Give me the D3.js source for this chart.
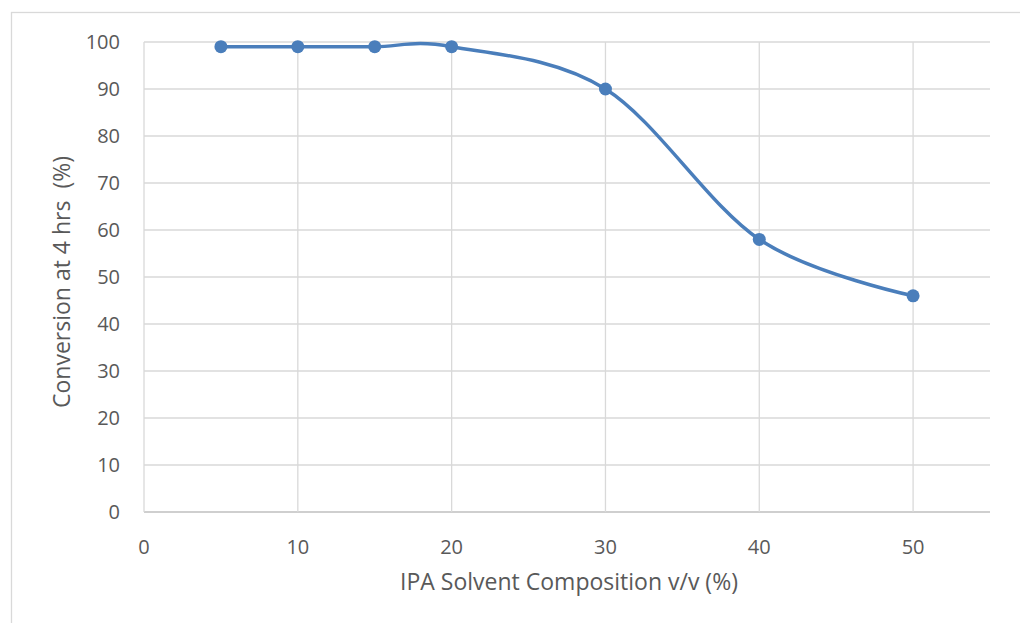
<!DOCTYPE html>
<html>
<head>
<meta charset="utf-8">
<script src="https://cdn.jsdelivr.net/npm/d3@7"></script>
<style>
  body { margin: 0; background: #fff; }
  svg text { font-family: 'Open Sans', Lato, sans-serif; fill: #595959; }
</style>
</head>
<body>
<div id="chart"></div>
<script>
const ipaPct = [5, 10, 15, 20, 30, 40, 50]
const conversion = [99, 99, 99, 99, 90, 58, 46]
const xTicks = [0, 10, 20, 30, 40, 50]
const yTicks = [0, 10, 20, 30, 40, 50, 60, 70, 80, 90, 100]

const W = 1020
const H = 623
const plot = { left: 144, right: 990, top: 42, bottom: 512 }

const svg = d3.select('#chart').append('svg')
  .attr('width', W)
  .attr('height', H)

// chart frame
svg.append('rect')
  .attr('x', 11.5).attr('y', 12.5)
  .attr('width', W + 10).attr('height', H + 10)
  .attr('fill', 'none')
  .attr('stroke', '#d9d9d9')
  .attr('stroke-width', 1.3)

const x = d3.scaleLinear().domain([0, 55]).range([plot.left, plot.right])
const y = d3.scaleLinear().domain([0, 100]).range([plot.bottom, plot.top])

const grid = svg.append('g').attr('class', 'grid')
grid.selectAll('.hgrid').data(yTicks).enter().append('line')
  .attr('x1', plot.left).attr('x2', plot.right)
  .attr('y1', d => y(d)).attr('y2', d => y(d))
  .attr('stroke', d => d === 0 ? '#bfbfbf' : '#d9d9d9')
  .attr('stroke-width', 1.3)
grid.selectAll('.vgrid').data(xTicks).enter().append('line')
  .attr('x1', d => x(d)).attr('x2', d => x(d))
  .attr('y1', plot.top).attr('y2', plot.bottom)
  .attr('stroke', '#d9d9d9')
  .attr('stroke-width', 1.3)

// tick labels
svg.append('g').selectAll('text').data(yTicks).enter().append('text')
  .attr('x', 120)
  .attr('y', d => y(d))
  .attr('dy', '0.35em')
  .attr('text-anchor', 'end')
  .style('font-size', '20px')
  .text(d => d)

svg.append('g').selectAll('text').data(xTicks).enter().append('text')
  .attr('x', d => x(d))
  .attr('y', 547)
  .attr('dy', '0.35em')
  .attr('text-anchor', 'middle')
  .style('font-size', '20px')
  .text(d => d)

// axis titles
svg.append('text')
  .attr('x', 569).attr('y', 582)
  .attr('dy', '0.35em')
  .attr('text-anchor', 'middle')
  .style('font-size', '23px')
  .text('IPA Solvent Composition v/v (%)')

svg.append('text')
  .attr('transform', 'translate(62, 282) rotate(-90)')
  .attr('dy', '0.35em')
  .attr('text-anchor', 'middle')
  .style('font-size', '23px')
  .style('white-space', 'pre')
  .text('Conversion at 4 hrs  (%)')

// series
const pts = ipaPct.map((d, i) => [d, conversion[i]])
const line = d3.line()
  .x(d => x(d[0]))
  .y(d => y(d[1]))
  .curve(d3.curveCatmullRom.alpha(0))

svg.append('path')
  .datum(pts)
  .attr('d', line)
  .attr('fill', 'none')
  .attr('stroke', '#4a7ebb')
  .attr('stroke-width', 3.5)
  .attr('stroke-linecap', 'round')

svg.append('g').selectAll('circle').data(pts).enter().append('circle')
  .attr('cx', d => x(d[0]))
  .attr('cy', d => y(d[1]))
  .attr('r', 6.5)
  .attr('fill', '#4a7ebb')
</script>
</body>
</html>
